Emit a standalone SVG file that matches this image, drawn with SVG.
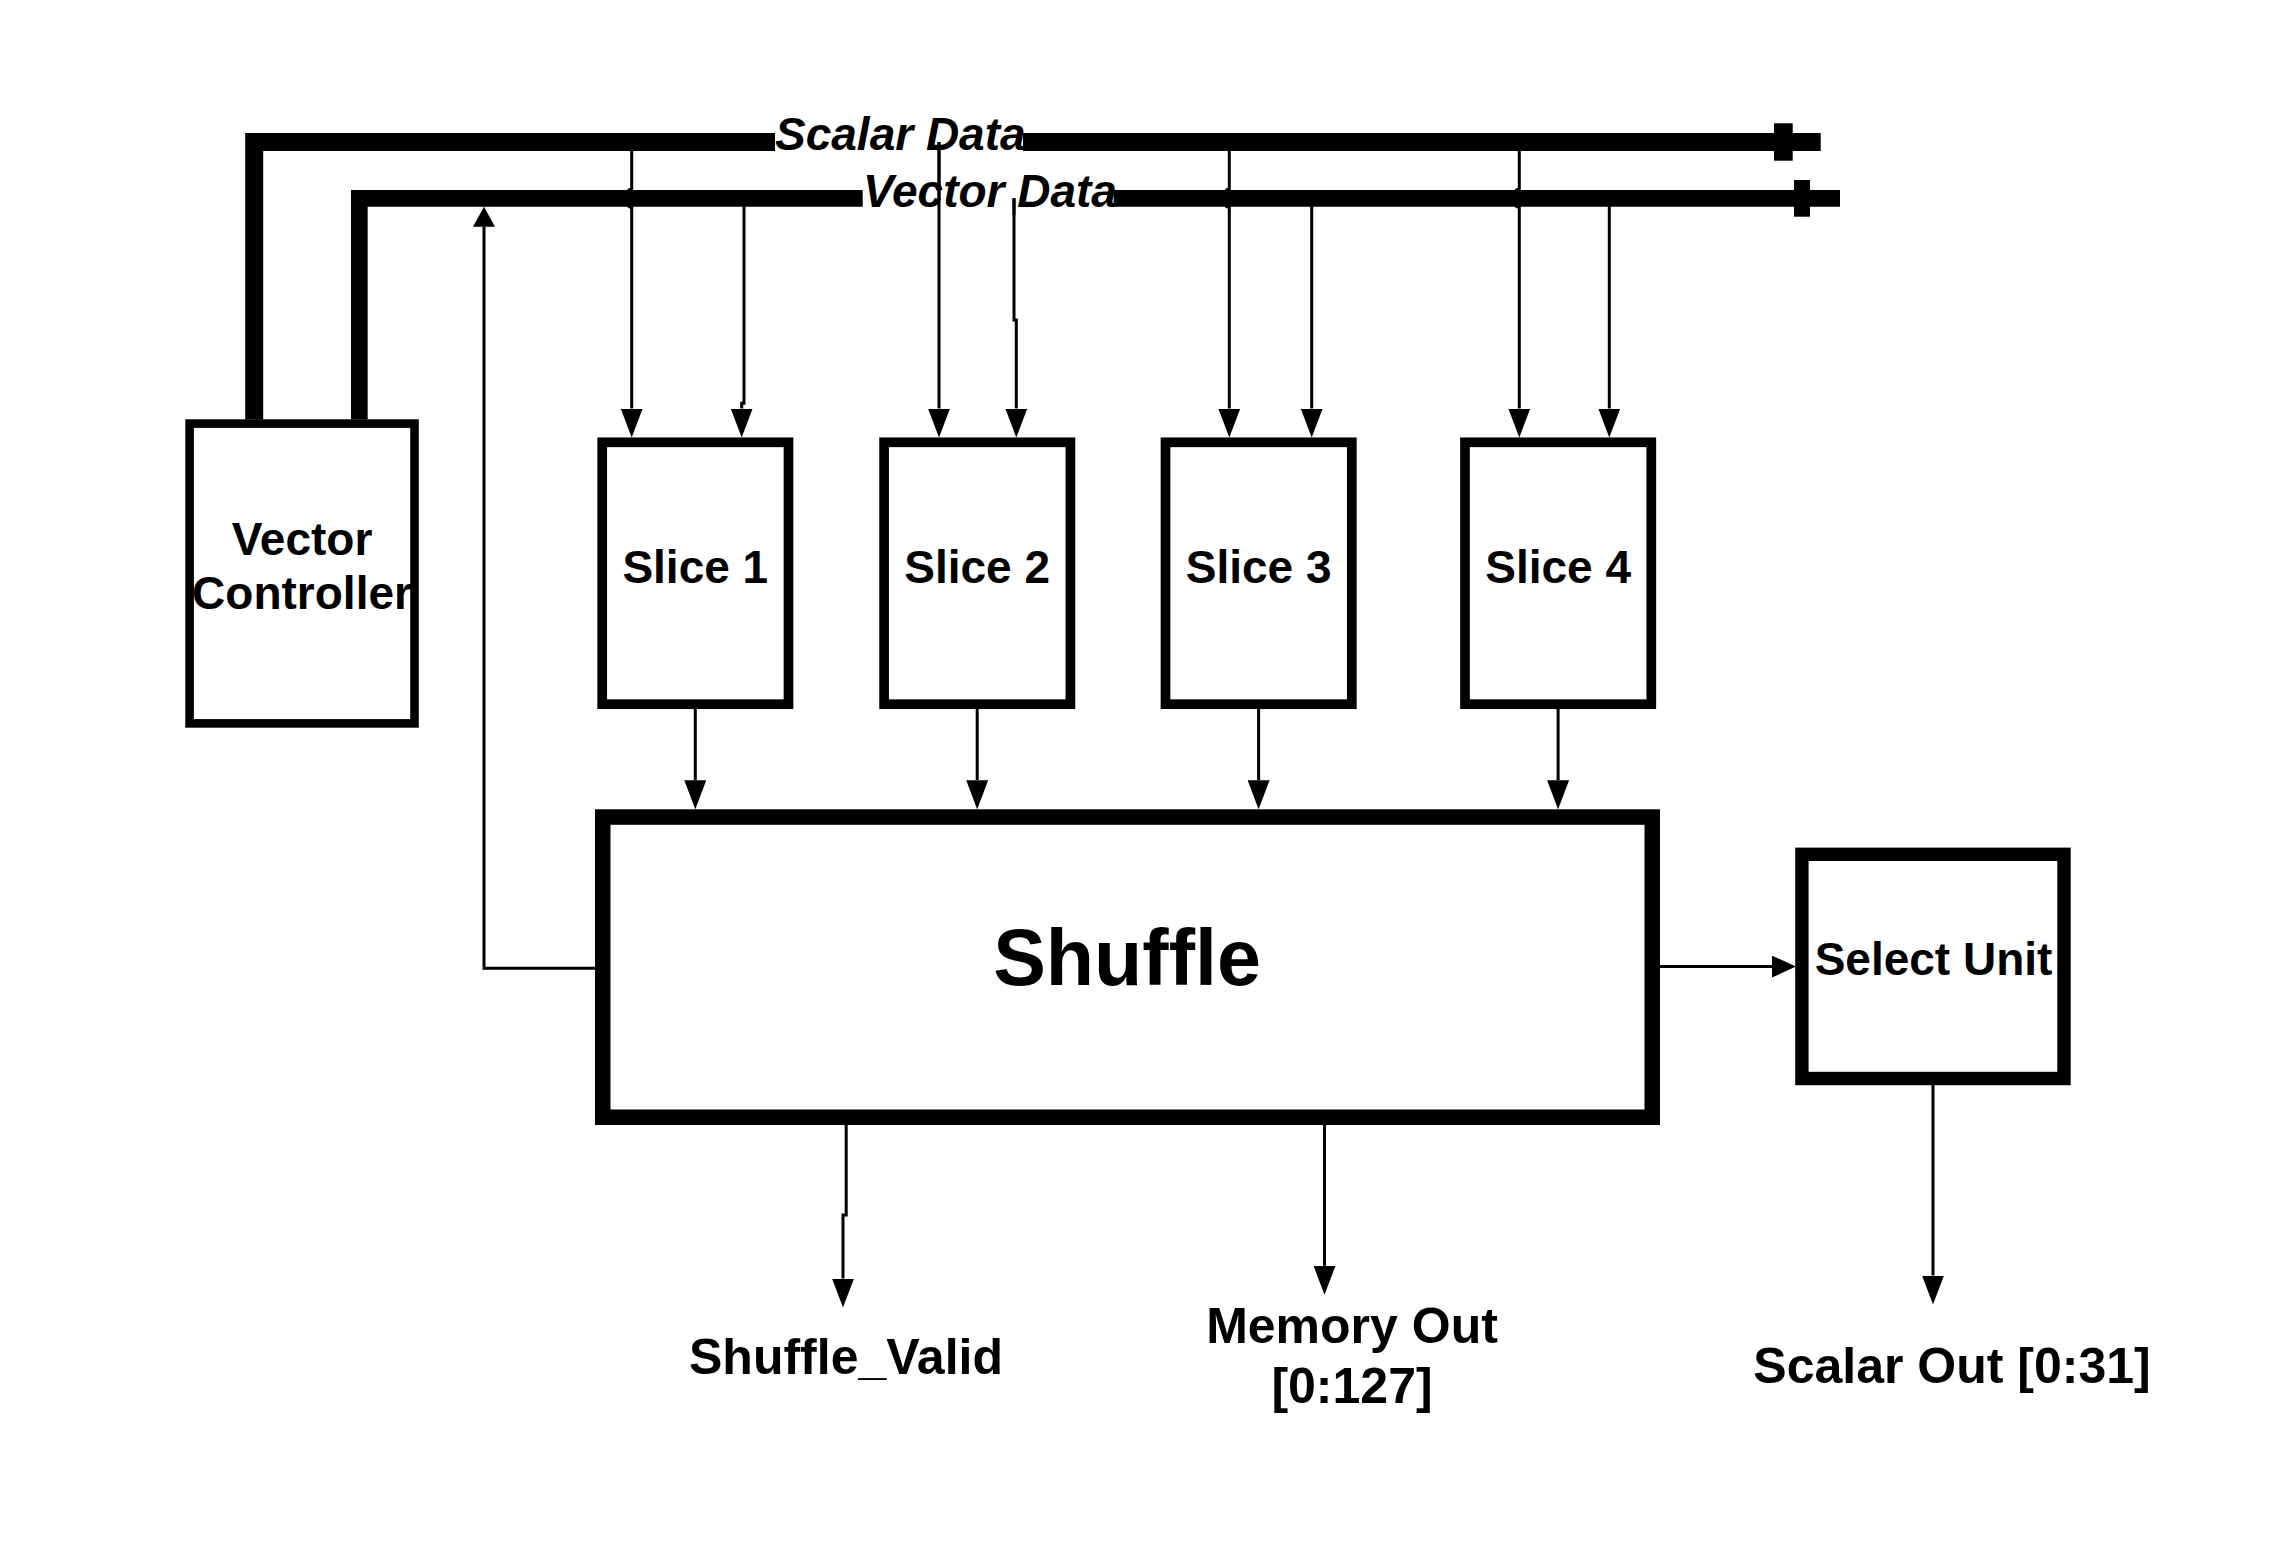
<svg xmlns="http://www.w3.org/2000/svg" width="2282" height="1554" viewBox="0 0 2282 1554">
<style>
text{font-family:"Liberation Sans",Arial,sans-serif;font-weight:bold;fill:#000}
.bus{fill:none;stroke:#000;stroke-linecap:butt;stroke-linejoin:miter}
.w{fill:none;stroke:#000;stroke-width:3}
.box{fill:#fff;stroke:#000}
.it{font-style:italic;font-size:46px}
.lbl{font-size:46px;text-anchor:middle}
.out{font-size:50px;text-anchor:middle}
</style>
<defs>
<marker id="a" viewBox="0 0 29 22" refX="0" refY="11" markerWidth="29" markerHeight="22" markerUnits="userSpaceOnUse" orient="auto"><path d="M0,0 L29,11 L0,22 Z" fill="#000"/></marker>
<marker id="as" viewBox="0 0 20 22" refX="0" refY="11" markerWidth="20" markerHeight="22" markerUnits="userSpaceOnUse" orient="auto"><path d="M0,0 L20,11 L0,22 Z" fill="#000"/></marker>
<marker id="am" viewBox="0 0 24 22" refX="0" refY="11" markerWidth="24" markerHeight="22" markerUnits="userSpaceOnUse" orient="auto"><path d="M0,0 L24,11 L0,22 Z" fill="#000"/></marker>
</defs>
<rect width="2282" height="1554" fill="#fff"/>

<g id="connectors">
  <!-- Scalar bus -->
  <path class="bus" stroke-width="18" d="M254.2,419.5 V142 H775"/>
  <path class="bus" stroke-width="18" d="M1023,142 H1820.7"/>
  <rect x="1774" y="123.3" width="18.7" height="37.4" fill="#000"/>
  <!-- Vector bus -->
  <path class="bus" stroke-width="16.7" d="M359.3,419.5 V198.3 H862.7"/>
  <path class="bus" stroke-width="16.7" d="M1113.6,198.3 H1840"/>
  <rect x="1794" y="180" width="16" height="36.7" fill="#000"/>
  <!-- junction bumps -->
  <path d="M631.7,187.4 A7.5 10.9 0 0 0 631.7,209.2 Z" fill="#000"/>
  <path d="M1229.3,187.4 A7.5 10.9 0 0 0 1229.3,209.2 Z" fill="#000"/>
  <path d="M1519.3,187.4 A7.5 10.9 0 0 0 1519.3,209.2 Z" fill="#000"/>
  <!-- bus to slices -->
  <path class="w" marker-end="url(#a)" d="M631.7,142 V408.5"/>
  <path class="w" marker-end="url(#a)" d="M744,198.3 V403.3 H741.7 V408.5"/>
  <path class="w" marker-end="url(#a)" d="M939,142 V408.5"/>
  <path class="w" marker-end="url(#a)" d="M1014,198.3 V320 H1016.3 V408.5"/>
  <path class="w" marker-end="url(#a)" d="M1229.3,142 V408.5"/>
  <path class="w" marker-end="url(#a)" d="M1311.7,198.3 V408.5"/>
  <path class="w" marker-end="url(#a)" d="M1519.3,142 V408.5"/>
  <path class="w" marker-end="url(#a)" d="M1609.3,198.3 V408.5"/>
  <!-- slices to shuffle -->
  <path class="w" marker-end="url(#a)" d="M695.3,709 V780.3"/>
  <path class="w" marker-end="url(#a)" d="M977.2,709 V780.3"/>
  <path class="w" marker-end="url(#a)" d="M1258.6,709 V780.3"/>
  <path class="w" marker-end="url(#a)" d="M1558.1,709 V780.3"/>
  <!-- feedback -->
  <path class="w" marker-end="url(#as)" d="M595,968.3 H484 V226.7"/>
  <!-- shuffle to select -->
  <path class="w" marker-end="url(#am)" d="M1660,966.6 H1772"/>
  <!-- outputs -->
  <path class="w" marker-end="url(#a)" d="M1933,1085 V1275.5"/>
  <path class="w" marker-end="url(#a)" d="M846.2,1125 V1215 H843 V1278.5"/>
  <path class="w" marker-end="url(#a)" d="M1324.5,1125 V1265.8"/>
</g>

<g id="bus-labels">
  <text class="it" x="775" y="149.5">Scalar Data</text>
  <text class="it" x="863" y="206.5">Vector Data</text>
</g>
<!-- lines crossing the labels -->
<g id="label-crossings">
  <path class="w" d="M939,142 V200"/>
  <path class="w" d="M1014,198.3 V215"/>
</g>

<g id="vector-controller">
  <rect class="box" stroke-width="8.6" x="189.6" y="423.6" width="224.9" height="299.8"/>
  <text class="lbl" x="302" y="555">Vector</text>
  <text class="lbl" x="302" y="609.3">Controller</text>
</g>
<g id="slice1">
  <rect class="box" stroke-width="9.7" x="602.2" y="442.3" width="186.3" height="261.9"/>
  <text class="lbl" x="695.3" y="582.7">Slice 1</text>
</g>
<g id="slice2">
  <rect class="box" stroke-width="9.7" x="884.1" y="442.3" width="186.3" height="261.9"/>
  <text class="lbl" x="977.2" y="582.7">Slice 2</text>
</g>
<g id="slice3">
  <rect class="box" stroke-width="9.7" x="1165.5" y="442.3" width="186.3" height="261.9"/>
  <text class="lbl" x="1258.6" y="582.7">Slice 3</text>
</g>
<g id="slice4">
  <rect class="box" stroke-width="9.7" x="1465" y="442.3" width="186.3" height="261.9"/>
  <text class="lbl" x="1558.1" y="582.7">Slice 4</text>
</g>
<g id="shuffle">
  <rect class="box" stroke-width="15.5" x="602.75" y="817.05" width="1049.5" height="300.2"/>
  <text x="1127" y="985" font-size="79" text-anchor="middle">Shuffle</text>
</g>
<g id="select-unit">
  <rect class="box" stroke-width="13.4" x="1801.9" y="854.3" width="262.1" height="224.2"/>
  <text class="lbl" x="1933.5" y="975">Select Unit</text>
</g>
<g id="shuffle-valid">
  <text class="out" x="846" y="1373.7">Shuffle_Valid</text>
</g>
<g id="memory-out">
  <text class="out" x="1352" y="1343.3">Memory Out</text>
  <text class="out" x="1352" y="1403">[0:127]</text>
</g>
<g id="scalar-out">
  <text class="out" x="1952" y="1382.6">Scalar Out [0:31]</text>
</g>
</svg>
